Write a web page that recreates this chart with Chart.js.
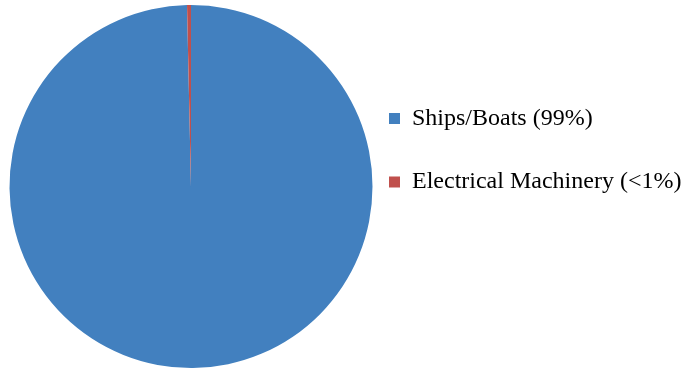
<!DOCTYPE html>
<html>
<head>
<meta charset="utf-8">
<script src="https://cdn.jsdelivr.net/npm/chart.js@4/dist/chart.umd.min.js"></script>
<style>
  html, body { margin: 0; padding: 0; background: #fff; }
  #wrap { width: 683px; height: 371px; position: relative; }
</style>
</head>
<body>
<div id="wrap"><canvas id="chart"></canvas></div>
<script>
const categories = ['Ships/Boats (99%)', 'Electrical Machinery (<1%)'];
const shares = [99.65, 0.35];
const sliceColors = ['#4280BF', '#C0504D'];

const baseLabels = Chart.overrides.pie.plugins.legend.labels.generateLabels;

new Chart(document.getElementById('chart').getContext('2d'), {
    type: 'pie',
    data: {
        labels: categories,
        datasets: [{
            data: shares,
            backgroundColor: sliceColors,
            borderWidth: 0,
            hoverOffset: 0,
        }],
    },
    options: {
        responsive: true,
        maintainAspectRatio: false,
        animation: false,
        layout: {
            padding: { top: 5, bottom: 3, left: 0, right: 0 },
        },
        plugins: {
            tooltip: { enabled: false },
            legend: {
                position: 'right',
                align: 'start',
                maxWidth: 301,
                // empty title only pushes the items down
                title: {
                    display: true,
                    text: '',
                    font: { size: 12, lineHeight: 1 },
                    padding: { top: 0, bottom: 82.5 },
                },
                labels: {
                    boxWidth: 11,
                    boxHeight: 11,
                    padding: 7,
                    color: '#000',
                    font: { family: '"Liberation Serif", "Times New Roman", serif', size: 24, lineHeight: 2.354 },
                    // array text so the row height follows the font lineHeight
                    generateLabels: (chart) => baseLabels(chart).map(l => ({ ...l, text: [l.text], strokeStyle: 'rgba(0,0,0,0)', lineWidth: 0 })),
                },
            },
        },
    },
});
</script>
</body>
</html>
